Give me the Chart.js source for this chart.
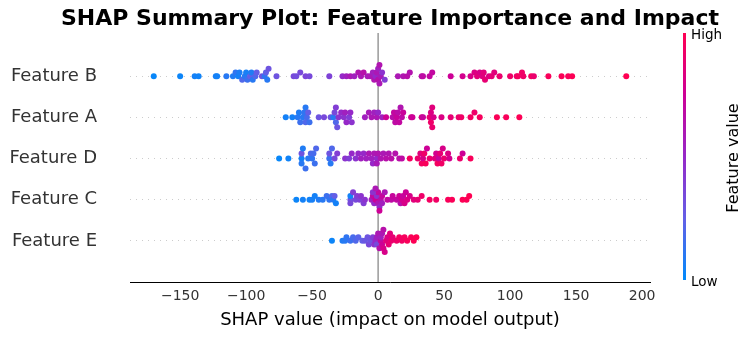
<!DOCTYPE html>
<html lang="en">
<head>
    <meta charset="UTF-8">
    <title>SHAP Summary Plot</title>
    <script src="https://cdn.jsdelivr.net/npm/chart.js"></script>
    <style>
        body { margin: 0; background: #fff; }
        #wrap { width: 753px; height: 339px; }
    </style>
</head>
<body>
    <div id="wrap"><canvas id="shapChart" width="753" height="339"></canvas></div>

    <script>
        // rows from bottom to top
        const features = ['Feature E', 'Feature C', 'Feature D', 'Feature A', 'Feature B'];
        const xTicks = [-150, -100, -50, 0, 50, 100, 150, 200];

        // SHAP values and (normalised) feature values
        const featureB_shap = [-170, -150, -139, -136, -123, -122, -115, -110, -108, -106, -105, -103, -101, -100, -99, -97, -96, -95, -93, -92, -88, -86, -85, -84, -83, -77, -64, -62, -59, -55, -52, -37, -27, -24, -21, -18, -15, -13, -11, -8, -6, -4, -3, -2, -1, 0, 0, 1, 1, 2, 3, 5, 15, 19, 22, 24, 33, 34, 39, 41, 55, 64, 70, 73, 75, 77, 79, 80, 81, 84, 86, 88, 92, 100, 105, 106, 109, 110, 116, 118, 129, 139, 144, 147, 188];
        const featureB_value = [0.02, 0.03, 0.05, 0.04, 0.06, 0.05, 0.1, 0.08, 0.12, 0.05, 0.07, 0.2, 0.1, 0.06, 0.15, 0.25, 0.08, 0.1, 0.2, 0.25, 0.3, 0.12, 0.25, 0.1, 0.3, 0.3, 0.35, 0.33, 0.35, 0.37, 0.35, 0.38, 0.5, 0.55, 0.6, 0.55, 0.62, 0.6, 0.65, 0.58, 0.6, 0.55, 0.62, 0.5, 0.6, 0.65, 0.55, 0.6, 0.62, 0.58, 0.45, 0.4, 0.6, 0.62, 0.65, 0.63, 0.65, 0.68, 0.7, 0.7, 0.75, 0.78, 0.8, 0.82, 0.85, 0.8, 0.83, 0.85, 0.88, 0.82, 0.87, 0.85, 0.9, 0.92, 0.9, 0.95, 0.93, 0.92, 0.95, 0.9, 0.97, 0.98, 0.97, 0.99, 1.0];

        const featureA_shap = [-70, -65, -61, -60, -59, -57, -56, -55, -55, -54, -53, -52, -45, -41, -36, -34, -33, -32, -32, -31, -30, -28, -26, -25, -24, -22, -21, -20, -10, -7, -5, -3, -1, 0, 3, 6, 11, 12, 13, 14, 15, 16, 17, 18, 19, 25, 26, 33, 34, 39, 40, 40, 41, 41, 42, 48, 55, 61, 63, 70, 73, 77, 90, 97, 107];
        const featureA_value = [0.05, 0.05, 0.1, 0.08, 0.15, 0.1, 0.12, 0.2, 0.1, 0.18, 0.25, 0.15, 0.3, 0.35, 0.3, 0.1, 0.35, 0.2, 0.4, 0.3, 0.45, 0.5, 0.45, 0.55, 0.5, 0.4, 0.5, 0.45, 0.55, 0.58, 0.6, 0.55, 0.6, 0.5, 0.55, 0.75, 0.65, 0.7, 0.68, 0.72, 0.66, 0.7, 0.62, 0.68, 0.73, 0.78, 0.75, 0.8, 0.72, 0.88, 0.82, 0.92, 0.85, 0.9, 0.8, 0.82, 0.88, 0.9, 0.93, 0.95, 0.92, 0.96, 0.98, 0.97, 0.99];

        const featureD_shap = [-75, -68, -58, -58, -58, -57, -55, -53, -51, -50, -49, -48, -47, -37, -37, -36, -35, -33, -31, -25, -22, -20, -17, -15, -13, -11, -9, -7, -5, -3, -1, 0, -4, -1, 2, 4, 6, 8, 10, 13, 16, 18, 24, 30, 32, 33, 34, 35, 36, 37, 39, 43, 44, 45, 46, 47, 48, 49, 50, 53, 54, 62, 64, 70];
        const featureD_value = [0.02, 0.04, 0.05, 0.3, 0.1, 0.08, 0.15, 0.1, 0.2, 0.12, 0.18, 0.15, 0.2, 0.15, 0.3, 0.1, 0.2, 0.35, 0.4, 0.45, 0.4, 0.5, 0.45, 0.5, 0.55, 0.5, 0.55, 0.6, 0.55, 0.6, 0.5, 0.62, 0.5, 0.58, 0.62, 0.6, 0.65, 0.62, 0.66, 0.64, 0.66, 0.68, 0.95, 0.9, 0.85, 0.95, 0.8, 0.92, 0.97, 0.75, 0.9, 0.85, 0.78, 0.95, 0.72, 0.88, 0.93, 0.8, 0.9, 0.82, 0.78, 0.9, 0.75, 0.97];

        const featureC_shap = [-62, -57, -52, -50, -48, -45, -42, -39, -37, -35, -34, -33, -32, -21, -21, -21, -19, -17, -16, -14, -13, -11, -10, -5, -4, -3, -2, -1, 0, 0, 1, 2, 3, 3, -4, -2, 1, 5, 7, 10, 11, 14, 16, 17, 18, 19, 20, 21, 22, 24, 27, 30, 33, 39, 44, 53, 56, 64, 67, 69];
        const featureC_value = [0.03, 0.05, 0.04, 0.06, 0.05, 0.08, 0.1, 0.15, 0.12, 0.2, 0.1, 0.25, 0.05, 0.3, 0.05, 0.35, 0.4, 0.35, 0.42, 0.38, 0.45, 0.4, 0.45, 0.55, 0.7, 0.5, 0.75, 0.45, 0.6, 0.7, 0.5, 0.65, 0.72, 0.55, 0.45, 0.6, 0.75, 0.6, 0.7, 0.68, 0.72, 0.7, 0.75, 0.65, 0.78, 0.72, 0.8, 0.75, 0.82, 0.8, 0.85, 0.88, 0.92, 0.95, 0.93, 0.97, 0.98, 0.99, 0.98, 1.0];

        const featureE_shap = [-35, -27, -25, -24, -21, -19, -17, -15, -12, -10, -8, -7, -6, -4, -3, -2, -1, -1, 0, 1, 2, 2, 3, 3, 4, 4, 5, 6, 7, 8, 9, 10, 11, 14, 16, 18, 20, 22, 25, 27, 29];
        const featureE_value = [0.03, 0.08, 0.1, 0.12, 0.15, 0.18, 0.2, 0.22, 0.25, 0.28, 0.3, 0.35, 0.3, 0.4, 0.45, 0.5, 0.55, 0.35, 0.6, 0.65, 0.7, 0.55, 0.75, 0.6, 0.8, 0.65, 0.8, 0.85, 0.82, 0.88, 0.85, 0.9, 0.88, 0.92, 0.95, 0.93, 0.96, 0.97, 0.98, 0.99, 1.0];

        const rows = [
            [featureE_shap, featureE_value],
            [featureC_shap, featureC_value],
            [featureD_shap, featureD_value],
            [featureA_shap, featureA_value],
            [featureB_shap, featureB_value]
        ];

        // blue -> purple -> red, like shap's red_blue map
        const stops = [[0, [0, 138, 251]], [0.25, [100, 95, 230]], [0.5, [150, 40, 200]], [0.75, [205, 0, 150]], [1, [255, 0, 82]]];
        function colorFor(t) {
            for (let i = 1; i < stops.length; i++) {
                if (t <= stops[i][0]) {
                    const [t0, c0] = stops[i - 1], [t1, c1] = stops[i];
                    const f = (t - t0) / (t1 - t0);
                    const c = c0.map((v, k) => Math.round(v + (c1[k] - v) * f));
                    return `rgb(${c[0]},${c[1]},${c[2]})`;
                }
            }
            return 'rgb(255,0,82)';
        }

        // shap-style beeswarm: bin values, stack points alternately up/down
        function swarm(vals, binW) {
            const q = vals.map(v => Math.round(v / binW));
            const order = vals.map((v, i) => i).sort((a, b) => q[a] - q[b] || a - b);
            const ys = new Array(vals.length).fill(0);
            let layer = 0, last = null;
            order.forEach(i => {
                if (q[i] !== last) layer = 0;
                ys[i] = Math.ceil(layer / 2) * ((layer % 2) * 2 - 1);
                layer++;
                last = q[i];
            });
            const m = Math.max(...ys.map(y => y + 1));
            return ys.map(y => y * 0.9 * (0.4 / m));
        }

        const datasets = rows.map(([shap, val], r) => {
            const off = swarm(shap, 4);
            return {
                label: features[r],
                data: shap.map((s, i) => ({ x: s, y: r + off[i] })),
                pointBackgroundColor: val.map(colorFor),
                pointBorderWidth: 0,
                pointRadius: 3,
                pointHoverRadius: 3
            };
        });

        const zeroLine = {
            id: 'zeroLine',
            beforeDatasetsDraw(chart) {
                const { ctx, chartArea } = chart;
                const x = chart.scales.x.getPixelForValue(0);
                ctx.save();
                ctx.strokeStyle = '#999999';
                ctx.lineWidth = 1.5;
                ctx.beginPath();
                ctx.moveTo(x, chartArea.top - 2);
                ctx.lineTo(x, chartArea.bottom);
                ctx.stroke();
                ctx.restore();
            }
        };

        // title centred over the plot area, plus the colour bar on the right
        const extras = {
            id: 'extras',
            afterDraw(chart) {
                const { ctx, chartArea } = chart;
                ctx.save();
                ctx.fillStyle = '#000';
                ctx.font = 'bold 22px "DejaVu Sans"';
                ctx.textAlign = 'center';
                ctx.textBaseline = 'middle';
                ctx.fillText('SHAP Summary Plot: Feature Importance and Impact', (chartArea.left + chartArea.right) / 2, 19);

                const top = 33, bottom = 280, x = 683;
                const g = ctx.createLinearGradient(0, bottom, 0, top);
                stops.forEach(([t]) => g.addColorStop(t, colorFor(t)));
                ctx.fillStyle = g;
                ctx.fillRect(x, top, 3, bottom - top);
                ctx.fillStyle = '#000';
                ctx.font = '13.5px "DejaVu Sans"';
                ctx.textAlign = 'left';
                ctx.fillText('High', 691, top + 2);
                ctx.fillText('Low', 691, bottom + 2);
                ctx.font = '16px "DejaVu Sans"';
                ctx.translate(734, 158);
                ctx.rotate(-Math.PI / 2);
                ctx.textAlign = 'center';
                ctx.fillText('Feature value', 0, 0);
                ctx.restore();
            }
        };

        new Chart(document.getElementById('shapChart'), {
            type: 'scatter',
            data: { datasets },
            options: {
                responsive: false,
                animation: false,
                events: [],
                layout: { padding: { left: 0, right: 103, top: 35, bottom: 0 } },
                plugins: {
                    legend: { display: false },
                    tooltip: { enabled: false },
                    title: { display: false }
                },
                scales: {
                    x: {
                        type: 'linear',
                        min: -188,
                        max: 206,
                        afterBuildTicks: s => { s.ticks = xTicks.map(v => ({ value: v })); },
                        grid: { display: false, drawTicks: false },
                        border: { display: true, color: '#000', width: 1 },
                        ticks: {
                            color: '#333',
                            padding: 6,
                            font: { family: 'DejaVu Sans', size: 14 },
                            callback: v => v < 0 ? '\u2212' + Math.abs(v) : String(v)
                        },
                        title: {
                            display: true,
                            text: 'SHAP value (impact on model output)',
                            color: '#000',
                            font: { family: 'DejaVu Sans', size: 18 },
                            padding: { top: 2, bottom: 8 }
                        },
                        afterFit: s => { s.height = 57; s.paddingLeft = 0; s.paddingRight = 0; }
                    },
                    y: {
                        type: 'linear',
                        min: -1,
                        max: 5,
                        afterBuildTicks: s => { s.ticks = features.map((f, i) => ({ value: i })); },
                        grid: { color: '#cccccc', lineWidth: 1, drawTicks: false },
                        border: { display: false, dash: [1, 5] },
                        ticks: {
                            color: '#333',
                            padding: 33,
                            font: { family: 'DejaVu Sans', size: 18 },
                            callback: v => features[v]
                        },
                        afterFit: s => { s.width = 130; s.paddingTop = 0; s.paddingBottom = 0; }
                    }
                }
            },
            plugins: [zeroLine, extras]
        });
    </script>
</body>
</html>
